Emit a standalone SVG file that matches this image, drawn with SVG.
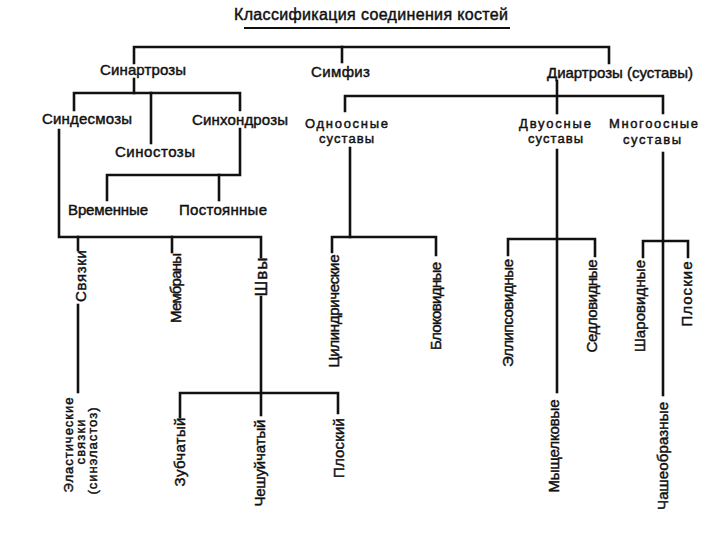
<svg xmlns="http://www.w3.org/2000/svg" width="720" height="540" viewBox="0 0 720 540">
<style>
text{font-family:"Liberation Sans",Arial,sans-serif;fill:#111;stroke:#111;stroke-width:0.45;}
.h{font-size:15px;}
.s{font-size:13px;}
.t{font-size:16px;}
.v{font-size:15px;text-anchor:middle;}
.e{font-size:13px;text-anchor:middle;}
.c path{fill:none;stroke:#111;stroke-width:2.6;stroke-linecap:square;stroke-linejoin:miter;}
</style>
<rect width="720" height="540" fill="#fff"/>
<g id="connectors" class="c">
<path d="M245 28H509" style="stroke-width:2"/>
<path d="M134 63V47H609V63"/>
<path d="M342 47V62"/>
<path d="M134 79V93"/>
<path d="M74 110V93H240V110"/>
<path d="M151 93V143"/>
<path d="M240 129V175H107V200"/>
<path d="M219 175V200"/>
<path d="M59 130V237H261V257"/>
<path d="M78 237V250"/>
<path d="M172 237V252"/>
<path d="M78 305V392"/>
<path d="M261 297V415"/>
<path d="M180 417V393H338V413"/>
<path d="M557 81V113"/>
<path d="M557 150V392"/>
<path d="M345 111V96H663V113"/>
<path d="M350 148V237"/>
<path d="M332 252V237H436V255"/>
<path d="M508 255V239H595V256"/>
<path d="M663 153V395"/>
<path d="M643 257V241H688V257"/>
</g>
<g id="title"><text class="t" x="234" y="20" textLength="274" lengthAdjust="spacing">Классификация соединения костей</text></g>
<g id="sinartrozy"><text class="h" x="100" y="75" textLength="86" lengthAdjust="spacing">Синартрозы</text></g>
<g id="simfiz"><text class="h" x="311" y="77" textLength="59" lengthAdjust="spacing">Симфиз</text></g>
<g id="diartrozy"><text class="h" x="547" y="78" textLength="146" lengthAdjust="spacing">Диартрозы (суставы)</text></g>
<g id="sindesmozy"><text class="h" x="42" y="124" textLength="90" lengthAdjust="spacing">Синдесмозы</text></g>
<g id="sinhondrozy"><text class="h" x="192" y="125" textLength="96" lengthAdjust="spacing">Синхондрозы</text></g>
<g id="sinostozy"><text class="h" x="115" y="157" textLength="80" lengthAdjust="spacing">Синостозы</text></g>
<g id="vremennye"><text class="h" x="68" y="215" textLength="80" lengthAdjust="spacing">Временные</text></g>
<g id="postoyannye"><text class="h" x="179" y="215" textLength="88" lengthAdjust="spacing">Постоянные</text></g>
<g id="odnoosnye"><text class="s" x="305" y="128" textLength="83" lengthAdjust="spacing">Одноосные</text><text class="s" x="319" y="143" textLength="55" lengthAdjust="spacing">суставы</text></g>
<g id="dvuosnye"><text class="s" x="519" y="128" textLength="72" lengthAdjust="spacing">Двуосные</text><text class="s" x="528" y="143" textLength="55" lengthAdjust="spacing">суставы</text></g>
<g id="mnogoosnye"><text class="s" x="609" y="128" textLength="89" lengthAdjust="spacing">Многоосные</text><text class="s" x="623" y="144" textLength="58" lengthAdjust="spacing">суставы</text></g>
<g id="svyazki"><text class="v" transform="translate(86 276) rotate(-90)" textLength="52" lengthAdjust="spacing">Связки</text></g>
<g id="membrany"><text class="v" transform="translate(181 288) rotate(-90)" textLength="70" lengthAdjust="spacing">Мембраны</text></g>
<g id="shvy"><text class="v" transform="translate(267 277) rotate(-90)" style="font-size:17px" textLength="39" lengthAdjust="spacing">Швы</text></g>
<g id="elastic"><text class="e" transform="translate(73 445) rotate(-90)" textLength="95" lengthAdjust="spacing">Эластические</text><text class="e" transform="translate(85 442) rotate(-90)" textLength="45" lengthAdjust="spacing">связки</text><text class="e" transform="translate(97 451) rotate(-90)" textLength="87" lengthAdjust="spacing">(синэластоз)</text></g>
<g id="zubchaty"><text class="v" transform="translate(185 452) rotate(-90)" textLength="69" lengthAdjust="spacing">Зубчатый</text></g>
<g id="cheshuychaty"><text class="v" transform="translate(265 463) rotate(-90)" textLength="87" lengthAdjust="spacing">Чешуйчатый</text></g>
<g id="ploskiy"><text class="v" transform="translate(344 448) rotate(-90)" textLength="60" lengthAdjust="spacing">Плоский</text></g>
<g id="cilindricheskie"><text class="v" transform="translate(339 311) rotate(-90)" textLength="113" lengthAdjust="spacing">Цилиндрические</text></g>
<g id="blokovidnye"><text class="v" transform="translate(441 306) rotate(-90)" textLength="88" lengthAdjust="spacing">Блоковидные</text></g>
<g id="ellipsovidnye"><text class="v" transform="translate(513 313) rotate(-90)" textLength="108" lengthAdjust="spacing">Эллипсовидные</text></g>
<g id="sedlovidnye"><text class="v" transform="translate(597 306) rotate(-90)" textLength="93" lengthAdjust="spacing">Седловидные</text></g>
<g id="myshchelkovye"><text class="v" transform="translate(559 446) rotate(-90)" textLength="93" lengthAdjust="spacing">Мыщелковые</text></g>
<g id="sharovidnye"><text class="v" transform="translate(645 306) rotate(-90)" textLength="92" lengthAdjust="spacing">Шаровидные</text></g>
<g id="ploskie"><text class="v" transform="translate(692 294) rotate(-90)" textLength="65" lengthAdjust="spacing">Плоские</text></g>
<g id="chasheobraznye"><text class="v" transform="translate(668 456) rotate(-90)" textLength="108" lengthAdjust="spacing">Чашеобразные</text></g>
</svg>
